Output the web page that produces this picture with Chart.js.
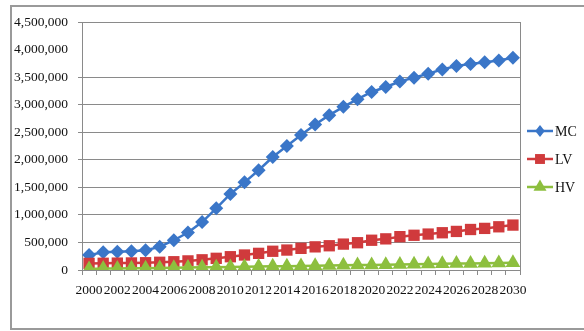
<!DOCTYPE html>
<html><head><meta charset="utf-8">
<script src="https://cdn.jsdelivr.net/npm/chart.js@4/dist/chart.umd.min.js"></script>
<style>html,body{margin:0;padding:0;background:#fff}#wrap{width:584px;height:331px;position:relative}</style>
</head><body><div id="wrap"><canvas id="c" width="584" height="331"></canvas></div>
<script>
const years = ['2000','2001','2002','2003','2004','2005','2006','2007','2008','2009','2010','2011','2012','2013','2014','2015','2016','2017','2018','2019','2020','2021','2022','2023','2024','2025','2026','2027','2028','2029','2030'];
const mcValues = [270000,320000,330000,340000,360000,420000,540000,680000,870000,1120000,1380000,1590000,1810000,2050000,2250000,2450000,2640000,2810000,2960000,3100000,3230000,3320000,3420000,3490000,3560000,3640000,3700000,3740000,3770000,3800000,3850000];
const lvValues = [120000,122000,125000,128000,132000,140000,150000,165000,185000,212000,241000,272000,302000,340000,362000,393000,420000,440000,470000,495000,540000,565000,605000,630000,652000,676000,700000,735000,755000,784000,815000];
const hvValues = [20000,25000,28000,30000,33000,37000,40000,44000,48000,52000,56000,60000,63000,67000,70000,74000,78000,81000,85000,89000,92000,96000,100000,104000,108000,112000,116000,120000,124000,128000,133000];
const seriesNames = ['MC','LV','HV'];
const yMax = 4500000;
const yStep = 500000;

const colors = {MC:'#3a76c8', LV:'#d03a3c', HV:'#8dbf3e'};
const styles = {MC:'rectRot', LV:'rect', HV:'triangle'};
const radii = {MC:7, LV:8, HV:8.5};
const FONT = "'Liberation Serif', 'DejaVu Serif', serif";

function drawMarker(ctx, style, r, x, y){
  ctx.beginPath();
  if(style==='rectRot'){ctx.moveTo(x,y-r);ctx.lineTo(x+r*0.8,y);ctx.lineTo(x,y+r);ctx.lineTo(x-r*0.8,y);}
  else if(style==='rect'){const s=Math.SQRT1_2*r;ctx.rect(x-s,y-s,2*s,2*s);}
  else {ctx.moveTo(x,y-r);ctx.lineTo(x+r*0.866,y+r/2);ctx.lineTo(x-r*0.866,y+r/2);}
  ctx.closePath();ctx.fill();
}

const framePlugin = {
  id:'frame',
  beforeDraw(chart){
    const ctx=chart.ctx;ctx.save();ctx.fillStyle='#fff';ctx.fillRect(0,0,chart.width,chart.height);
    ctx.strokeStyle='#9a9a9a';ctx.lineWidth=2;ctx.strokeRect(11,6,600,323);ctx.restore();
  },
  afterDraw(chart){
    const ctx=chart.ctx, a=chart.chartArea;ctx.save();
    ctx.strokeStyle='#8a8a8a';ctx.lineWidth=1;
    ctx.beginPath();ctx.moveTo(Math.round(a.right)+0.5,a.top);ctx.lineTo(Math.round(a.right)+0.5,a.bottom);ctx.stroke();
    const ys=[131,159,187];
    seriesNames.forEach((n,i)=>{
      const y=ys[i];ctx.strokeStyle=colors[n];ctx.fillStyle=colors[n];ctx.lineWidth=2.5;
      ctx.beginPath();ctx.moveTo(527,y);ctx.lineTo(553,y);ctx.stroke();
      drawMarker(ctx,styles[n],radii[n]-1,540,y);
      ctx.fillStyle='#111';ctx.font='14px '+FONT;ctx.textBaseline='middle';ctx.textAlign='left';
      ctx.fillText(n,555,y+1);
    });
    ctx.restore();
  }
};

function ds(name, data, order){
  return {label:name,data:data,borderColor:colors[name],backgroundColor:colors[name],borderWidth:2.5,
    pointStyle:styles[name],pointRadius:radii[name],pointHoverRadius:radii[name],pointBorderWidth:0,order:order,tension:0};
}

new Chart(document.getElementById('c'),{
  type:'line',
  data:{labels:years,datasets:[ds('MC',mcValues,2),ds('LV',lvValues,1),ds('HV',hvValues,0)]},
  options:{
    responsive:false,animation:false,devicePixelRatio:1,
    layout:{padding:{left:0,right:64,top:22,bottom:0}},
    plugins:{legend:{display:false},tooltip:{enabled:false}},
    scales:{
      x:{type:'category',offset:true,
        grid:{drawOnChartArea:false,drawTicks:true,tickLength:5,color:'#8a8a8a',offset:true},
        border:{color:'#8a8a8a',width:1},
        ticks:{autoSkip:false,maxRotation:0,minRotation:0,padding:7,color:'#111',font:{family:FONT,size:13.5},
          callback:(v,i)=> i%2===0 ? years[i] : ''},
        afterFit:s=>{s.height=61;}
      },
      y:{min:0,max:yMax,
        ticks:{stepSize:yStep,padding:10,color:'#111',font:{family:FONT,size:13.5},
          callback:v=>Number(v).toLocaleString('en-US')},
        grid:{color:c=> (c.tick && c.tick.value===4000000) ? 'rgba(0,0,0,0)' : '#8a8a8a',tickLength:4,drawTicks:true},
        border:{color:'#8a8a8a',width:1},
        afterFit:s=>{s.width=82;}
      }
    }
  },
  plugins:[framePlugin]
});
</script></body></html>
